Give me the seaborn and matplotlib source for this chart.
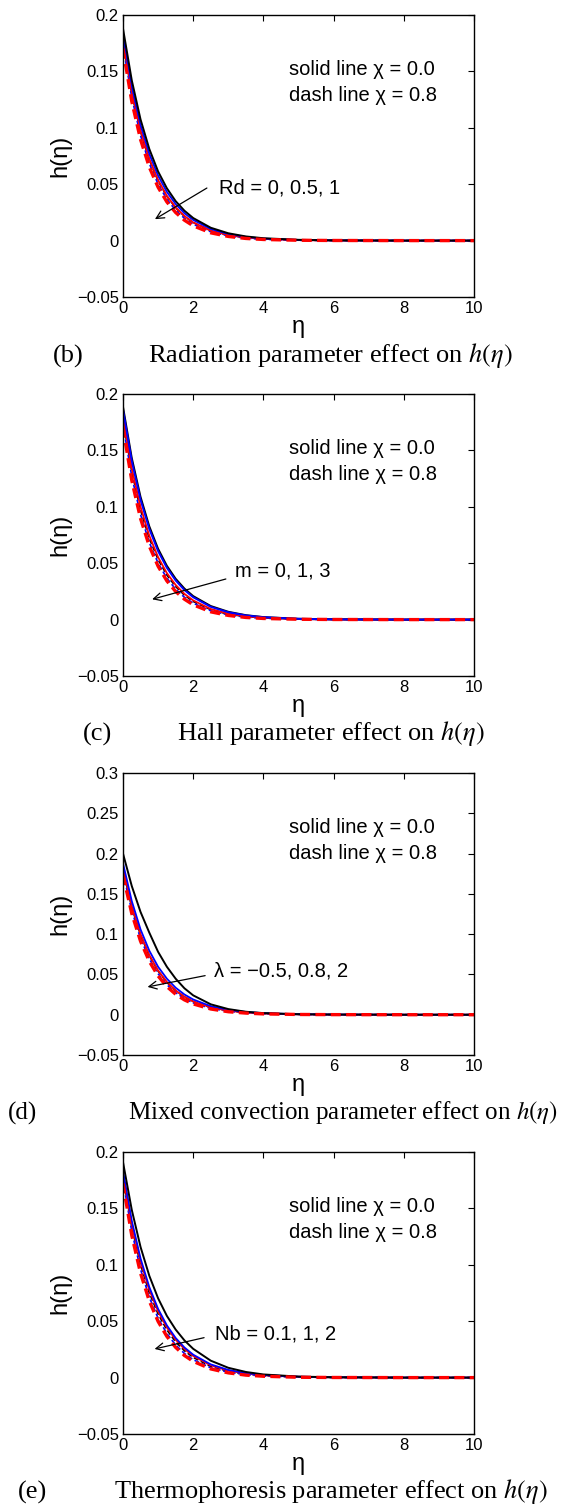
import matplotlib
matplotlib.use("Agg")
import matplotlib.pyplot as plt
import pandas as pd
import seaborn as sns

# eta grid shared by all curves
eta = [0, 0.25, 0.5, 0.75, 1.0, 1.25, 1.5, 1.75, 2.0, 2.5, 3.0, 3.5, 4.0, 5.0, 6.0, 8.0, 10.0]

# (b) radiation parameter Rd = 0, 0.5, 1
b_solid_black = [0.188, 0.1421, 0.1074, 0.0812, 0.0613, 0.0464, 0.0350, 0.0265, 0.0200, 0.0114, 0.0065, 0.0037, 0.0021, 0.0007, 0.0002, 0, 0]
b_solid_blue = [0.182, 0.1365, 0.1024, 0.0768, 0.0576, 0.0432, 0.0324, 0.0243, 0.0183, 0.0103, 0.0058, 0.0033, 0.0018, 0.0006, 0.0002, 0, 0]
b_solid_red = [0.178, 0.1319, 0.0977, 0.0724, 0.0536, 0.0397, 0.0294, 0.0218, 0.0161, 0.0089, 0.0049, 0.0027, 0.0015, 0.0004, 0.0001, 0, 0]
b_dash_black = [0.176, 0.1304, 0.0966, 0.0716, 0.0530, 0.0393, 0.0291, 0.0216, 0.0160, 0.0088, 0.0048, 0.0026, 0.0014, 0.0004, 0.0001, 0, 0]
b_dash_blue = [0.173, 0.1269, 0.0931, 0.0683, 0.0501, 0.0367, 0.0269, 0.0198, 0.0145, 0.0078, 0.0042, 0.0022, 0.0012, 0.0003, 0.0001, 0, 0]
b_dash_red = [0.170, 0.1234, 0.0896, 0.0651, 0.0473, 0.0343, 0.0249, 0.0181, 0.0131, 0.0069, 0.0037, 0.0019, 0.0010, 0.0003, 0.0001, 0, 0]

# (c) Hall parameter m = 0, 1, 3
c_solid_black = [0.189, 0.1436, 0.1090, 0.0828, 0.0629, 0.0478, 0.0363, 0.0276, 0.0209, 0.0121, 0.0070, 0.0040, 0.0023, 0.0008, 0.0003, 0, 0]
c_solid_blue = [0.186, 0.1406, 0.1062, 0.0803, 0.0607, 0.0459, 0.0347, 0.0262, 0.0198, 0.0113, 0.0065, 0.0037, 0.0021, 0.0007, 0.0002, 0, 0]
c_solid_red = [0.180, 0.1340, 0.0998, 0.0743, 0.0553, 0.0412, 0.0307, 0.0228, 0.0170, 0.0094, 0.0052, 0.0029, 0.0016, 0.0005, 0.0001, 0, 0]
c_dash_black = [0.177, 0.1311, 0.0971, 0.0720, 0.0533, 0.0395, 0.0293, 0.0217, 0.0161, 0.0088, 0.0048, 0.0027, 0.0015, 0.0004, 0.0001, 0, 0]
c_dash_blue = [0.173, 0.1269, 0.0931, 0.0683, 0.0501, 0.0367, 0.0269, 0.0198, 0.0145, 0.0078, 0.0042, 0.0022, 0.0012, 0.0003, 0.0001, 0, 0]
c_dash_red = [0.170, 0.1234, 0.0896, 0.0651, 0.0473, 0.0343, 0.0249, 0.0181, 0.0131, 0.0069, 0.0037, 0.0019, 0.0010, 0.0003, 0.0001, 0, 0]

# (d) mixed convection parameter lambda = -0.5, 0.8, 2
d_solid_black = [0.200, 0.1597, 0.1275, 0.1018, 0.0780, 0.0595, 0.0447, 0.0328, 0.0240, 0.0129, 0.0070, 0.0037, 0.0020, 0.0006, 0.0002, 0, 0]
d_solid_blue = [0.188, 0.1410, 0.1058, 0.0794, 0.0595, 0.0447, 0.0335, 0.0251, 0.0189, 0.0106, 0.0060, 0.0034, 0.0019, 0.0006, 0.0002, 0, 0]
d_solid_red = [0.182, 0.1348, 0.0999, 0.0740, 0.0548, 0.0406, 0.0301, 0.0223, 0.0165, 0.0091, 0.0050, 0.0027, 0.0015, 0.0005, 0.0001, 0, 0]
d_dash_black = [0.180, 0.1333, 0.0988, 0.0732, 0.0542, 0.0402, 0.0298, 0.0221, 0.0163, 0.0090, 0.0049, 0.0027, 0.0015, 0.0005, 0.0001, 0, 0]
d_dash_blue = [0.176, 0.1291, 0.0947, 0.0694, 0.0509, 0.0373, 0.0274, 0.0201, 0.0147, 0.0079, 0.0043, 0.0023, 0.0012, 0.0004, 0.0001, 0, 0]
d_dash_red = [0.173, 0.1256, 0.0912, 0.0662, 0.0481, 0.0349, 0.0254, 0.0184, 0.0134, 0.0071, 0.0037, 0.0020, 0.0010, 0.0003, 0.0001, 0, 0]

# (e) thermophoresis parameter Nb = 0.1, 1, 2
e_solid_black = [0.191, 0.1487, 0.1158, 0.0902, 0.0703, 0.0547, 0.0426, 0.0330, 0.0255, 0.0150, 0.0087, 0.0050, 0.0028, 0.0009, 0.0003, 0, 0]
e_solid_blue = [0.183, 0.1390, 0.1056, 0.0802, 0.0609, 0.0463, 0.0351, 0.0267, 0.0203, 0.0117, 0.0068, 0.0039, 0.0023, 0.0008, 0.0003, 0, 0]
e_solid_red = [0.180, 0.1360, 0.1028, 0.0777, 0.0587, 0.0444, 0.0336, 0.0254, 0.0192, 0.0109, 0.0062, 0.0036, 0.0020, 0.0007, 0.0002, 0, 0]
e_dash_black = [0.178, 0.1335, 0.1002, 0.0751, 0.0564, 0.0423, 0.0317, 0.0238, 0.0179, 0.0100, 0.0056, 0.0032, 0.0018, 0.0006, 0.0002, 0, 0]
e_dash_blue = [0.175, 0.1296, 0.0960, 0.0712, 0.0527, 0.0390, 0.0289, 0.0214, 0.0159, 0.0087, 0.0048, 0.0026, 0.0014, 0.0004, 0.0001, 0, 0]
e_dash_red = [0.172, 0.1261, 0.0925, 0.0679, 0.0498, 0.0365, 0.0268, 0.0196, 0.0144, 0.0077, 0.0042, 0.0022, 0.0012, 0.0003, 0.0001, 0, 0]

panel_letters = ["(b)", "(c)", "(d)", "(e)"]
panel_titles = [
    r"Radiation parameter effect on $h(\eta)$",
    r"Hall parameter effect on $h(\eta)$",
    r"Mixed convection parameter effect on $h(\eta)$",
    r"Thermophoresis parameter effect on $h(\eta)$",
]
param_labels = ["Rd = 0, 0.5, 1", "m = 0, 1, 3", "λ = −0.5, 0.8, 2", "Nb = 0.1, 1, 2"]
y_limits = [(-0.05, 0.2), (-0.05, 0.2), (-0.05, 0.3), (-0.05, 0.2)]
y_ticks = [
    [-0.05, 0, 0.05, 0.1, 0.15, 0.2],
    [-0.05, 0, 0.05, 0.1, 0.15, 0.2],
    [-0.05, 0, 0.05, 0.1, 0.15, 0.2, 0.25, 0.3],
    [-0.05, 0, 0.05, 0.1, 0.15, 0.2],
]
x_ticks = [0, 2, 4, 6, 8, 10]

panels = [
    [b_dash_black, b_dash_blue, b_solid_red, b_solid_blue, b_solid_black, b_dash_red],
    [c_dash_black, c_dash_blue, c_solid_red, c_solid_black, c_solid_blue, c_dash_red],
    [d_dash_black, d_dash_blue, d_solid_red, d_solid_blue, d_solid_black, d_dash_red],
    [e_dash_black, e_dash_blue, e_solid_red, e_solid_blue, e_solid_black, e_dash_red],
]
panel_colors = [
    ["black", "blue", "red", "blue", "black", "red"],
    ["black", "blue", "red", "black", "blue", "red"],
    ["black", "blue", "red", "blue", "black", "red"],
    ["black", "blue", "red", "blue", "black", "red"],
]

# label text position (data coords) and arrow start / tip
label_pos = [(2.73, 0.047), (3.18, 0.043), (2.59, 0.054), (2.62, 0.039)]
arrow_from = [(2.39, 0.0466), (2.93, 0.036), (2.34, 0.0485), (2.31, 0.0354)]
arrow_to = [(0.91, 0.019), (0.83, 0.018), (0.70, 0.0345), (0.90, 0.0254)]


def fmt_tick(v):
    if v == 0:
        return "0"
    s = f"{v:g}"
    return s.replace("-", "\u2212")


sns.set_style("white")
plt.rcParams["font.family"] = ["Liberation Sans", "DejaVu Sans"]
plt.rcParams["mathtext.fontset"] = "stix"
plt.rcParams["text.color"] = "black"
plt.rcParams["axes.labelcolor"] = "black"

W, H = 563, 1506
fig = plt.figure(figsize=(W / 100, H / 100), dpi=100)

ax_left, ax_w, ax_h = 123, 351, 282
ax_tops = [15, 394, 773, 1152]
caption_y = [356, 734, 1113, 1492]
caption_size = [19, 19, 18, 19]
letter_x = [53, 83, 8, 18]
title_x = [148, 177, 128, 114]

dash = (0, (3, 1.6))
styles = [dash, dash, "-", "-", "-", dash]
widths = [1.2, 1.2, 1.3, 1.3, 1.4, 2.4]

for i in range(4):
    top = ax_tops[i]
    ax = fig.add_axes([ax_left / W, 1 - (top + ax_h) / H, ax_w / W, ax_h / H])
    for vals, c, ls, lw in zip(panels[i], panel_colors[i], styles, widths):
        df = pd.DataFrame({"eta": eta, "h": vals})
        sns.lineplot(data=df, x="eta", y="h", color=c, linestyle=ls, linewidth=lw, ax=ax)

    ax.set_xlim(0, 10)
    ax.set_ylim(*y_limits[i])
    ax.set_xticks(x_ticks)
    ax.set_xticklabels([str(t) for t in x_ticks])
    ax.set_yticks(y_ticks[i])
    ax.set_yticklabels([fmt_tick(t) for t in y_ticks[i]])
    ax.tick_params(direction="in", top=True, right=True, length=4, width=0.8,
                   labelsize=12, pad=3, colors="black")
    for sp in ax.spines.values():
        sp.set_color("black")
        sp.set_linewidth(1.0)
    ax.set_xlabel("η", fontsize=17, labelpad=0)
    ax.set_ylabel("h(η)", fontsize=17, labelpad=4)

    ax.text(0.473, 0.805, "solid line χ = 0.0", transform=ax.transAxes,
            fontsize=14.5, va="center", ha="left")
    ax.text(0.473, 0.713, "dash line χ = 0.8", transform=ax.transAxes,
            fontsize=14.5, va="center", ha="left")
    ax.text(label_pos[i][0], label_pos[i][1], param_labels[i], fontsize=14.5,
            va="center", ha="left")
    ax.annotate("", xy=arrow_to[i], xytext=arrow_from[i],
                arrowprops=dict(arrowstyle="->", lw=0.9, color="black",
                                shrinkA=0, shrinkB=0, mutation_scale=14))

    fig.text(letter_x[i] / W, 1 - caption_y[i] / H, panel_letters[i],
             fontsize=caption_size[i], family="Liberation Serif", va="center", ha="left")
    fig.text(title_x[i] / W, 1 - caption_y[i] / H, panel_titles[i],
             fontsize=caption_size[i], family="Liberation Serif", va="center", ha="left")

fig.savefig("out.png", dpi=100)
plt.close(fig)
